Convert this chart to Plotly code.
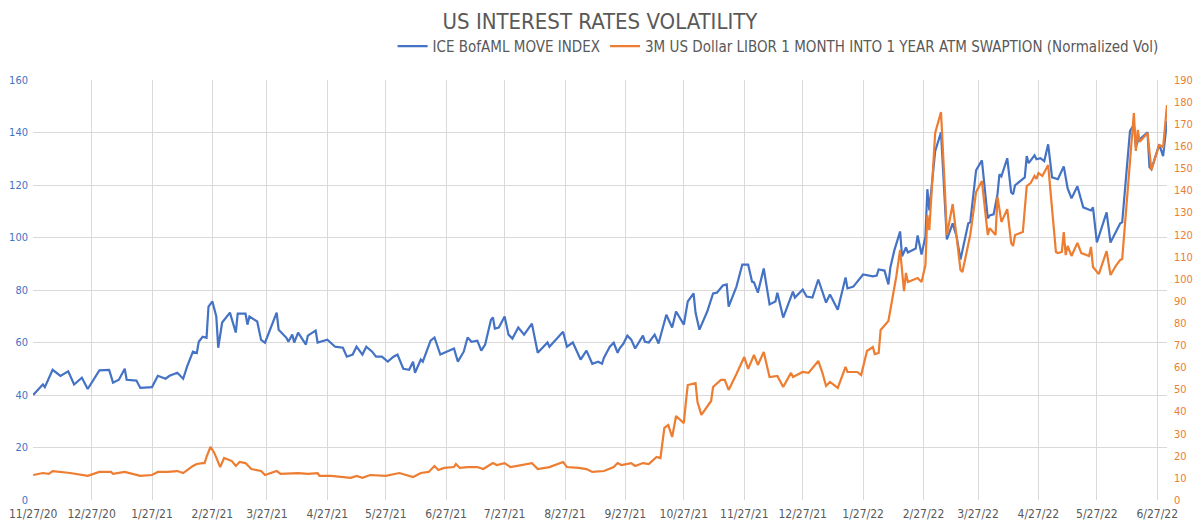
import pandas as pd
import plotly.graph_objects as go

START = "2020-11-27"

# ICE BofAML MOVE INDEX (left axis): day offsets from START and values
move_days = [0, 5, 6, 10, 14, 18, 21, 25, 28, 34, 39, 41, 44, 47, 48, 53, 55, 61, 64, 68, 70, 74, 77, 79,
             82, 84, 85, 87, 89, 90, 92, 94, 95, 97, 101, 104, 105, 109, 110, 111, 115, 117, 119, 125, 126,
             130, 131, 133, 134, 136, 140, 141, 145, 146, 151, 155, 159, 161, 164, 166, 169, 171, 174, 176,
             179, 181, 182, 185, 187, 190, 193, 195, 196, 199, 200, 204, 206, 209, 216, 218, 221, 223, 225,
             228, 230, 232, 235, 236, 237, 239, 242, 244, 246, 249, 252, 256, 259, 264, 265, 272, 274, 277,
             281, 284, 287, 290, 292, 293, 296, 298, 300, 301, 303, 305, 307, 309, 313, 314, 316, 319, 321,
             325, 328, 330, 334, 336, 339, 340, 342, 346, 349, 351, 354, 356, 357, 361, 364, 367, 369, 370,
             372, 375, 378, 381, 382, 385, 387, 390, 391, 395, 397, 400, 403, 407, 409, 413, 417, 418, 421,
             426, 431, 433, 434, 437, 439, 440, 442, 445, 446, 448, 449, 453, 454, 456, 458, 459, 460, 463,
             466, 468, 469, 472, 474, 476, 480, 481, 484, 487, 490, 491, 493, 495, 496, 497, 500, 502, 503,
             504, 509, 510, 511, 514, 515, 517, 519, 521, 523, 526, 529, 531, 533, 536, 539, 543, 544, 546,
             551, 553, 556, 558, 559, 563, 565, 566, 567, 572, 573, 574, 578, 580, 582]
move_vals = [40, 44, 43, 49.6, 47.3, 49, 44, 46.6, 42.3, 49.4, 49.6, 44.7, 45.8, 50, 45.8, 45.5, 42.7, 43,
             47.3, 46.2, 47.3, 48.5, 46.2, 50.8, 56.5, 56, 60.3, 62.2, 61.8, 73.7, 75.6, 69.9, 58, 67.6, 71.4,
             63.8, 71, 71, 66.8, 69.9, 68, 61, 59.9, 71.4, 64.9, 61.8, 60.3, 63, 60, 63.8, 59.2, 62.6, 64.5,
             60, 61.1, 58.4, 58, 54.6, 55.4, 58.4, 55.4, 58.4, 56.5, 54.6, 54.6, 53.1, 52.7, 54.6, 55.4, 50,
             49.6, 52.7, 48.5, 53.5, 52.7, 60.7, 61.9, 55.4, 57.7, 52.7, 56.5, 61.9, 60.3, 60.7, 56.9, 59.2,
             68.7, 69.5, 65.3, 65.7, 69.9, 63, 61.5, 65.7, 63, 67.2, 56.1, 60, 58.4, 64.1, 58.4, 60, 53.5,
             56.9, 51.9, 52.7, 51.9, 54.2, 58.4, 59.9, 56.1, 57.7, 59.6, 62.6, 61.1, 57.7, 62.6, 60.3, 60, 63,
             59.6, 70.6, 65.7, 71.8, 66.8, 75.6, 78.7, 71.4, 64.9, 71.8, 78.7, 79, 81.7, 82.1, 73.7, 81.3,
             89.7, 89.7, 83.2, 82.9, 79, 88.2, 74.5, 75.6, 79, 69.5, 73.7, 79.4, 77.1, 80.2, 77.5, 77.1, 84,
             75.2, 78.3, 72.5, 84.8, 80.6, 81.3, 85.9, 85.2, 85.5, 87.8, 87.4, 82.1, 88.6, 95, 102.3, 92.8,
             96.2, 94.3, 95.8, 100.8, 93.5, 100.4, 118.4, 110.3, 132.9, 140.1, 111.9, 99.3, 105.4, 100.4,
             91.6, 105.4, 105.8, 125.6, 129.4, 107.3, 108.4, 108.8, 116.5, 124.1, 123.3, 130.2, 117.2, 116.5,
             119.9, 122.9, 131, 128.3, 131.3, 129.8, 130.2, 129.1, 135.5, 122.9, 122.2, 127.1, 118.7, 114.9,
             119.5, 111.5, 110.3, 111.5, 98.1, 109.6, 98.1, 102.3, 105.4, 105.8, 140.5, 143, 134.4, 136.7,
             140.1, 126.8, 126, 135.5, 131, 144.3]

# 3M USD LIBOR 1M into 1Y ATM swaption normalized vol (right axis)
swpt_days = [0, 5, 8, 10, 19, 28, 34, 40, 41, 47, 55, 61, 64, 69, 74, 77, 82, 84, 87, 88, 89, 91, 93, 96,
             98, 102, 104, 106, 109, 112, 117, 119, 125, 127, 136, 141, 146, 147, 153, 163, 166, 169, 173,
             181, 188, 195, 199, 203, 206, 208, 211, 216, 217, 219, 223, 228, 231, 236, 238, 242, 245, 250,
             256, 259, 265, 272, 274, 280, 284, 287, 293, 298, 300, 302, 307, 309, 313, 316, 320, 322, 324,
             326, 328, 330, 334, 335, 336, 340, 341, 343, 348, 349, 353, 355, 357, 361, 365, 367, 370, 372,
             375, 378, 382, 385, 389, 390, 395, 398, 403, 405, 407, 409, 413, 417, 418, 423, 425, 428, 431,
             432, 434, 435, 439, 443, 445, 447, 448, 449, 454, 456, 458, 459, 460, 463, 466, 468, 469, 472,
             474, 476, 477, 481, 484, 487, 490, 491, 494, 495, 497, 500, 502, 503, 504, 508, 510, 512, 514,
             515, 516, 518, 521, 523, 525, 526, 528, 529, 530, 531, 533, 536, 538, 542, 543, 544, 547, 551,
             553, 556, 558, 559, 562, 565, 566, 567, 568, 572, 574, 578, 580, 582]
swpt_vals = [11.3, 12.2, 11.8, 13.1, 12.2, 10.9, 12.7, 12.7, 11.8, 12.7, 10.9, 11.3, 12.7, 12.7, 13.1, 12.2,
             15.4, 16.3, 16.7, 16.7, 19.5, 24, 21.3, 14.9, 19, 17.6, 15.4, 17.2, 16.7, 14, 13.1, 11.3, 13.1,
             11.8, 12.2, 11.8, 12.2, 10.9, 10.9, 10, 10.9, 10, 11.3, 10.9, 12.2, 10.4, 12.2, 12.7, 15.4, 13.6,
             14.5, 14.9, 16.3, 14.5, 14.9, 14.9, 14, 16.7, 15.8, 16.7, 14.9, 15.8, 16.7, 14, 14.9, 17.2, 14.9,
             14.5, 14, 12.7, 13.1, 14.9, 16.7, 15.8, 16.7, 15.4, 16.7, 16.3, 19.5, 19, 32.6, 33.9, 28.5, 38,
             34.8, 43.9, 52, 52.9, 44.3, 38.5, 44.8, 51.1, 54.3, 54.3, 49.8, 57, 64.7, 59.3, 65.6, 61.1, 67,
             55.6, 56.1, 51.1, 57.5, 55.6, 57.9, 57.5, 62.9, 57.9, 51.6, 53.4, 50.7, 60.2, 57.9, 57.9, 56.5,
             67.4, 69.2, 66, 66.5, 76.9, 81, 100.9, 113.1, 94.5, 102.7, 98.6, 100.4, 98.6, 106.3, 128.9,
             122.1, 166, 175.5, 140.2, 119.9, 133.9, 119.9, 104, 103.1, 119.9, 139.3, 144.3, 119.9, 123,
             119.9, 137.1, 125.8, 131.6, 116.3, 114.9, 119.9, 121.2, 142, 143.4, 146.6, 145.2, 147.9, 146.6,
             151.5, 132.5, 112.2, 111.7, 112.2, 121.2, 110.8, 114.9, 110.4, 116.3, 111.7, 110.4, 114.5,
             105.4, 102.2, 112.6, 101.8, 106.3, 108.6, 109, 141.1, 175.1, 157.9, 167.4, 162, 166, 149.3,
             160.6, 159.7, 178.7]

tick_dates = pd.date_range("2020-11-01", "2022-06-27", freq="MS") + pd.Timedelta(days=26)
tick_text = [f"{d.month}/{d.day}/{d.strftime('%y')}" for d in tick_dates]

start = pd.Timestamp(START)
move_x = [start + pd.Timedelta(days=d) for d in move_days]
swpt_x = [start + pd.Timedelta(days=d) for d in swpt_days]

BLUE = "#4472C4"
ORANGE = "#ED7D31"
GRAY = "#595959"
GRID = "#D9D9D9"
FONT = "Liberation Sans Narrow, DejaVu Sans Condensed, Roboto, sans-serif"

fig = go.Figure()
fig.add_trace(go.Scatter(x=move_x, y=move_vals, mode="lines", name="ICE BofAML MOVE INDEX",
                         line=dict(color=BLUE, width=2.2)))
fig.add_trace(go.Scatter(x=swpt_x, y=swpt_vals, mode="lines",
                         name="3M US Dollar LIBOR 1 MONTH INTO 1 YEAR ATM SWAPTION (Normalized Vol)",
                         line=dict(color=ORANGE, width=2.2), yaxis="y2"))

fig.update_layout(
    width=1200, height=528,
    margin=dict(l=33, r=33, t=80, b=28),
    paper_bgcolor="white", plot_bgcolor="white",
    font=dict(family=FONT, color=GRAY),
    title=dict(text="US INTEREST RATES VOLATILITY", x=0.5, xanchor="center", y=0.96, yanchor="middle",
               font=dict(size=22, color=GRAY, family=FONT)),
    legend=dict(orientation="h", x=0.997, xanchor="right", y=1.08, yanchor="middle",
                font=dict(size=15, color=GRAY, family=FONT), bgcolor="rgba(0,0,0,0)",
                itemwidth=30, tracegroupgap=0),
    xaxis=dict(type="date", range=[start - pd.Timedelta(hours=2), start + pd.Timedelta(days=582)],
               tickvals=tick_dates, ticktext=tick_text, showgrid=True, gridcolor=GRID, gridwidth=1,
               zeroline=False, showline=False, ticks="", ticklabelstandoff=5, automargin=False,
               tickfont=dict(size=12, color=GRAY, family=FONT)),
    yaxis=dict(range=[0, 160], dtick=20, showgrid=True, gridcolor=GRID, gridwidth=1, zeroline=False,
               showline=False, ticks="", ticklabelstandoff=4, automargin=False,
               tickfont=dict(size=11, color=BLUE, family=FONT)),
    yaxis2=dict(range=[0, 190], dtick=10, overlaying="y", side="right", showgrid=False, zeroline=False,
                showline=False, ticks="", ticklabelstandoff=6, automargin=False,
                tickfont=dict(size=11, color=ORANGE, family=FONT)),
    showlegend=True,
)

fig.write_html("out.html")
